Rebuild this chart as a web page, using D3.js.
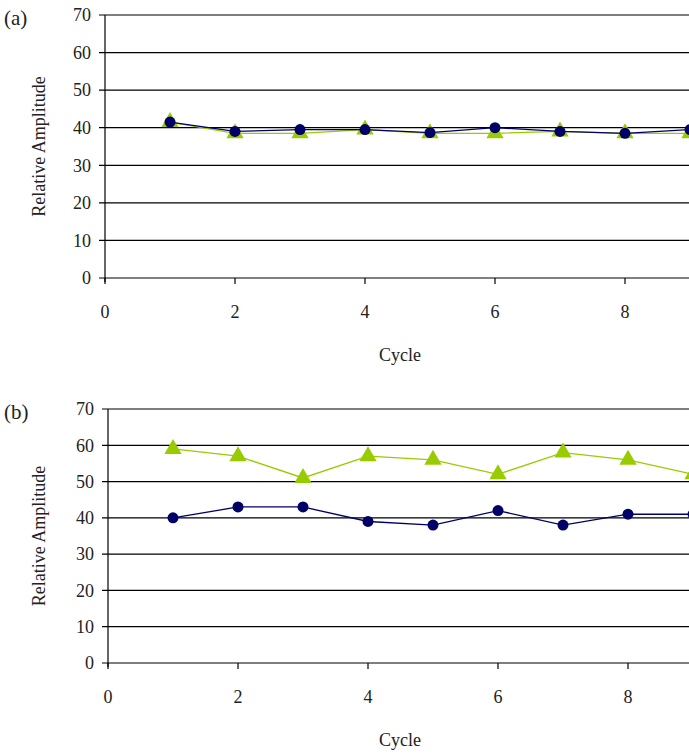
<!doctype html>
<html lang="en">
<head>
    <meta charset="UTF-8" />
    <title>Relative Amplitude vs Cycle</title>
    <script src="https://d3js.org/d3.v7.min.js"></script>
    <style>
        body, html {
            margin: 0;
            padding: 0;
            background: #fff;
            overflow: hidden;
        }
        svg {
            display: block;
        }
        svg text {
            font-family: "Liberation Serif", "DejaVu Serif", serif;
        }
    </style>
</head>
<body>
    <svg id="chart"></svg>
    <script>
        const cycles = [1, 2, 3, 4, 5, 6, 7, 8, 9];
        const blueA = [41.5, 39, 39.5, 39.5, 38.7, 40, 39, 38.5, 39.5];
        const greenA = [41.5, 38.5, 38.5, 39.5, 38.5, 38.5, 39, 38.5, 38.5];
        const blueB = [40, 43, 43, 39, 38, 42, 38, 41, 41];
        const greenB = [59, 57, 51, 57, 56, 52, 58, 56, 52];
        const yTicks = [0, 10, 20, 30, 40, 50, 60, 70];
        const xTicks = [0, 2, 4, 6, 8, 10];
        const xLabels = [0, 2, 4, 6, 8];

        const width = 689, height = 754;
        const svg = d3.select("#chart").attr("width", width).attr("height", height);

        const navy = "#000066";
        const green = "#99cc00";
        const serif = "'Liberation Serif', 'DejaVu Serif', serif";

        function panel(label, top, bottom, left, blue, green2) {
            const g = svg.append("g").attr("font-family", serif);
            const x = d3.scaleLinear().domain([0, 10]).range([left, left + 650]);
            const y = d3.scaleLinear().domain([0, 70]).range([bottom, top]);

            // gridlines
            g.selectAll(".grid")
                .data(yTicks)
                .join("line")
                .attr("x1", left - 6)
                .attr("x2", width + 100)
                .attr("y1", d => y(d))
                .attr("y2", d => y(d))
                .attr("stroke", "#000")
                .attr("stroke-width", 1.2);

            // y axis line
            g.append("line")
                .attr("x1", left).attr("x2", left)
                .attr("y1", top).attr("y2", bottom + 4)
                .attr("stroke", "#000").attr("stroke-width", 1.2);

            // x ticks
            g.selectAll(".xt")
                .data(xTicks)
                .join("line")
                .attr("x1", d => x(d)).attr("x2", d => x(d))
                .attr("y1", bottom).attr("y2", bottom + 6)
                .attr("stroke", "#000").attr("stroke-width", 1.2);

            g.selectAll(".yl")
                .data(yTicks)
                .join("text")
                .attr("x", left - 14)
                .attr("y", d => y(d))
                .attr("dy", "0.35em")
                .attr("text-anchor", "end")
                .attr("font-size", 18)
                .attr("fill", "#222")
                .text(d => d);

            g.selectAll(".xl")
                .data(xLabels)
                .join("text")
                .attr("x", d => x(d))
                .attr("y", bottom + 40)
                .attr("text-anchor", "middle")
                .attr("font-size", 18)
                .attr("fill", "#222")
                .text(d => d);

            g.append("text")
                .attr("x", 400)
                .attr("y", bottom + 83)
                .attr("text-anchor", "middle")
                .attr("font-size", 18)
                .attr("fill", "#222")
                .text("Cycle");

            g.append("text")
                .attr("transform", `translate(45,${(top + bottom) / 2}) rotate(-90)`)
                .attr("text-anchor", "middle")
                .attr("font-size", 18)
                .attr("fill", "#222")
                .text("Relative Amplitude");

            g.append("text")
                .attr("x", 4)
                .attr("y", top + 10)
                .attr("font-size", 21)
                .attr("fill", "#222")
                .text(label);

            const line = d3.line().x(d => x(d[0])).y(d => y(d[1]));

            const gData = cycles.map((c, i) => [c, green2[i]]);
            const bData = cycles.map((c, i) => [c, blue[i]]);

            g.append("path").datum(gData)
                .attr("d", line).attr("fill", "none")
                .attr("stroke", green).attr("stroke-width", 1.3);
            g.selectAll(".tri").data(gData).join("path")
                .attr("d", d3.symbol().type(d3.symbolTriangle).size(130))
                .attr("transform", d => `translate(${x(d[0])},${y(d[1])})`)
                .attr("fill", green);

            g.append("path").datum(bData)
                .attr("d", line).attr("fill", "none")
                .attr("stroke", navy).attr("stroke-width", 1.3);
            g.selectAll(".dot").data(bData).join("circle")
                .attr("cx", d => x(d[0])).attr("cy", d => y(d[1]))
                .attr("r", 5.5)
                .attr("fill", navy);
        }

        panel("(a)", 15, 278, 105, blueA, greenA);
        panel("(b)", 409, 663, 108, blueB, greenB);
    </script>
</body>
</html>
